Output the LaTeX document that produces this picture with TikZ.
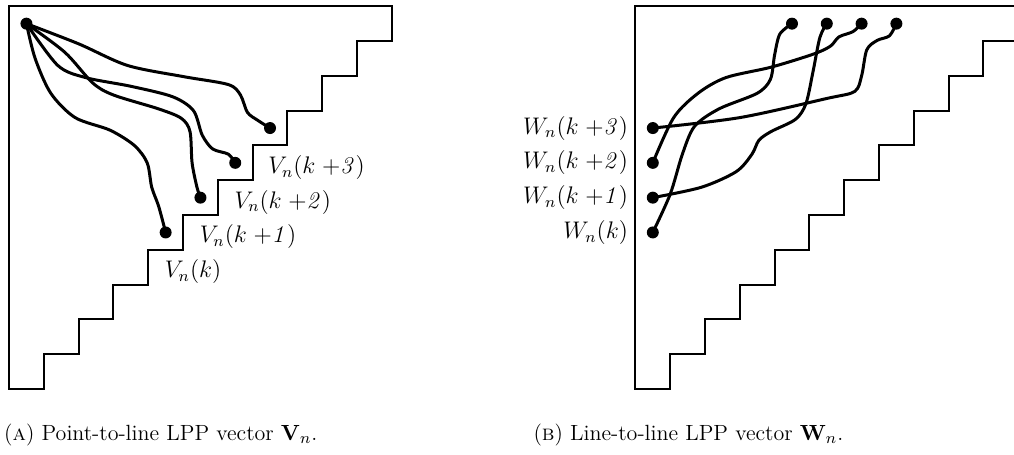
\documentclass[tikz,border=0pt]{standalone}
\usepackage{amsmath}
\usetikzlibrary{positioning}
\tikzset{
    stairs/.style={line width=1pt, line join=miter},
    lpppath/.style={line width=1.5pt, line cap=round, line join=round},
    lppdot/.style={circle, fill=black, inner sep=0pt, minimum size=6pt},
    lbl/.style={inner sep=0pt, font=\large},
    capt/.style={inner sep=0pt, font=\fontsize{11}{13}\selectfont, anchor=base west},
}

\begin{document}
\begin{tikzpicture}[x=17.4pt, y=17.4pt]
\useasboundingbox (-0.26,-1.87) rectangle (28.88,11.18);
\clip (-0.26,-1.87) rectangle (28.88,11.18);

% (A) point-to-line
\draw[stairs] (0,0) -- (0,11) -- (11,11) -- (11,10) -- (10,10) -- (10,9) -- (9,9) -- (9,8)
    -- (8,8) -- (8,7) -- (7,7) -- (7,6) -- (6,6) -- (6,5) -- (5,5) -- (5,4) -- (4,4)
    -- (4,3) -- (3,3) -- (3,2) -- (2,2) -- (2,1) -- (1,1) -- (1,0) -- cycle;

\node[lppdot] (s) at (0.5,10.5) {};
\node[lppdot] (v0) at (4.5,4.5) {};
\node[lppdot] (v1) at (5.5,5.5) {};
\node[lppdot] (v2) at (6.5,6.5) {};
\node[lppdot] (v3) at (7.5,7.5) {};

\node[lbl, anchor=west] (lv0) at (4.47,3.38) {$V_n(k)$};
\node[lbl, anchor=west] (lv1) at (5.47,4.38) {$V_n(k\;{+}\mathit{1})$};
\node[lbl, anchor=west] (lv2) at (6.47,5.37) {$V_n(k\;{+}\mathit{2})$};
\node[lbl, anchor=west] (lv3) at (7.44,6.36) {$V_n(k\;{+}\mathit{3})$};

\draw[lpppath] plot[smooth] coordinates {(s.center) (0.75,9.5) (1.2,8.5) (1.9,7.8)
    (2.9,7.44) (3.6,7.0) (3.97,6.5) (4.1,5.8) (4.3,5.25) (v0.center)};
\draw[lpppath] plot[smooth] coordinates {(s.center) (1.6,9.68) (2.4,8.8) (3.0,8.45)
    (4.3,8.05) (4.95,7.78) (5.2,7.4) (5.26,6.5) (5.4,5.8) (v1.center)};
\draw[lpppath] plot[smooth] coordinates {(s.center) (1.4,9.3) (2.2,8.95) (3.5,8.7)
    (4.7,8.4) (5.3,8.0) (5.55,7.3) (5.85,6.9) (6.3,6.75) (v2.center)};
\draw[lpppath] plot[smooth] coordinates {(s.center) (2.0,9.92) (3.4,9.3) (5.0,8.98)
    (6.3,8.75) (6.65,8.45) (6.85,7.95) (7.15,7.72) (v3.center)};

\node[capt] (capa) at (-0.15,-1.47) {(\textsc{a}) Point-to-line LPP vector $\mathbf{V}_n$.};

% (B) line-to-line
\begin{scope}[shift={(18,0)}]
\draw[stairs] (0,0) -- (0,11) -- (11,11) -- (11,10) -- (10,10) -- (10,9) -- (9,9) -- (9,8)
    -- (8,8) -- (8,7) -- (7,7) -- (7,6) -- (6,6) -- (6,5) -- (5,5) -- (5,4) -- (4,4)
    -- (4,3) -- (3,3) -- (3,2) -- (2,2) -- (2,1) -- (1,1) -- (1,0) -- cycle;

\node[lppdot] (w0) at (0.5,4.5) {};
\node[lppdot] (w1) at (0.5,5.5) {};
\node[lppdot] (w2) at (0.5,6.5) {};
\node[lppdot] (w3) at (0.5,7.5) {};
\node[lppdot] (t0) at (4.5,10.5) {};
\node[lppdot] (t1) at (5.5,10.5) {};
\node[lppdot] (t2) at (6.5,10.5) {};
\node[lppdot] (t3) at (7.5,10.5) {};

\node[lbl, anchor=east] (lw0) at (-0.2,4.5) {$W_n(k)$};
\node[lbl, anchor=east] (lw1) at (-0.2,5.5) {$W_n(k\;{+}\mathit{1})$};
\node[lbl, anchor=east] (lw2) at (-0.2,6.5) {$W_n(k\;{+}\mathit{2})$};
\node[lbl, anchor=east] (lw3) at (-0.2,7.5) {$W_n(k\;{+}\mathit{3})$};

\draw[lpppath] plot[smooth] coordinates {(w0.center) (1.0,5.6) (1.35,6.75) (1.7,7.55)
    (2.4,8.05) (3.5,8.5) (3.88,8.9) (4.0,9.6) (4.15,10.2) (t0.center)};
\draw[lpppath] plot[smooth] coordinates {(w1.center) (1.9,5.8) (2.9,6.25) (3.35,6.75)
    (3.55,7.15) (3.9,7.4) (4.6,7.75) (4.9,8.2) (5.1,9.1) (5.3,10.1) (t1.center)};
\draw[lpppath] plot[smooth] coordinates {(w2.center) (1.1,7.8) (1.8,8.5) (2.6,8.95)
    (3.9,9.25) (5.1,9.62) (5.6,9.85) (5.85,10.12) (6.25,10.27) (t2.center)};
\draw[lpppath] plot[smooth] coordinates {(w3.center) (3.0,7.8) (5.5,8.35) (6.3,8.55)
    (6.5,9.0) (6.65,9.75) (6.95,10.02) (7.3,10.15) (t3.center)};
\end{scope}

\node[capt] (capb) at (15.06,-1.47) {(\textsc{b}) Line-to-line LPP vector $\mathbf{W}_n$.};
\end{tikzpicture}
\end{document}
